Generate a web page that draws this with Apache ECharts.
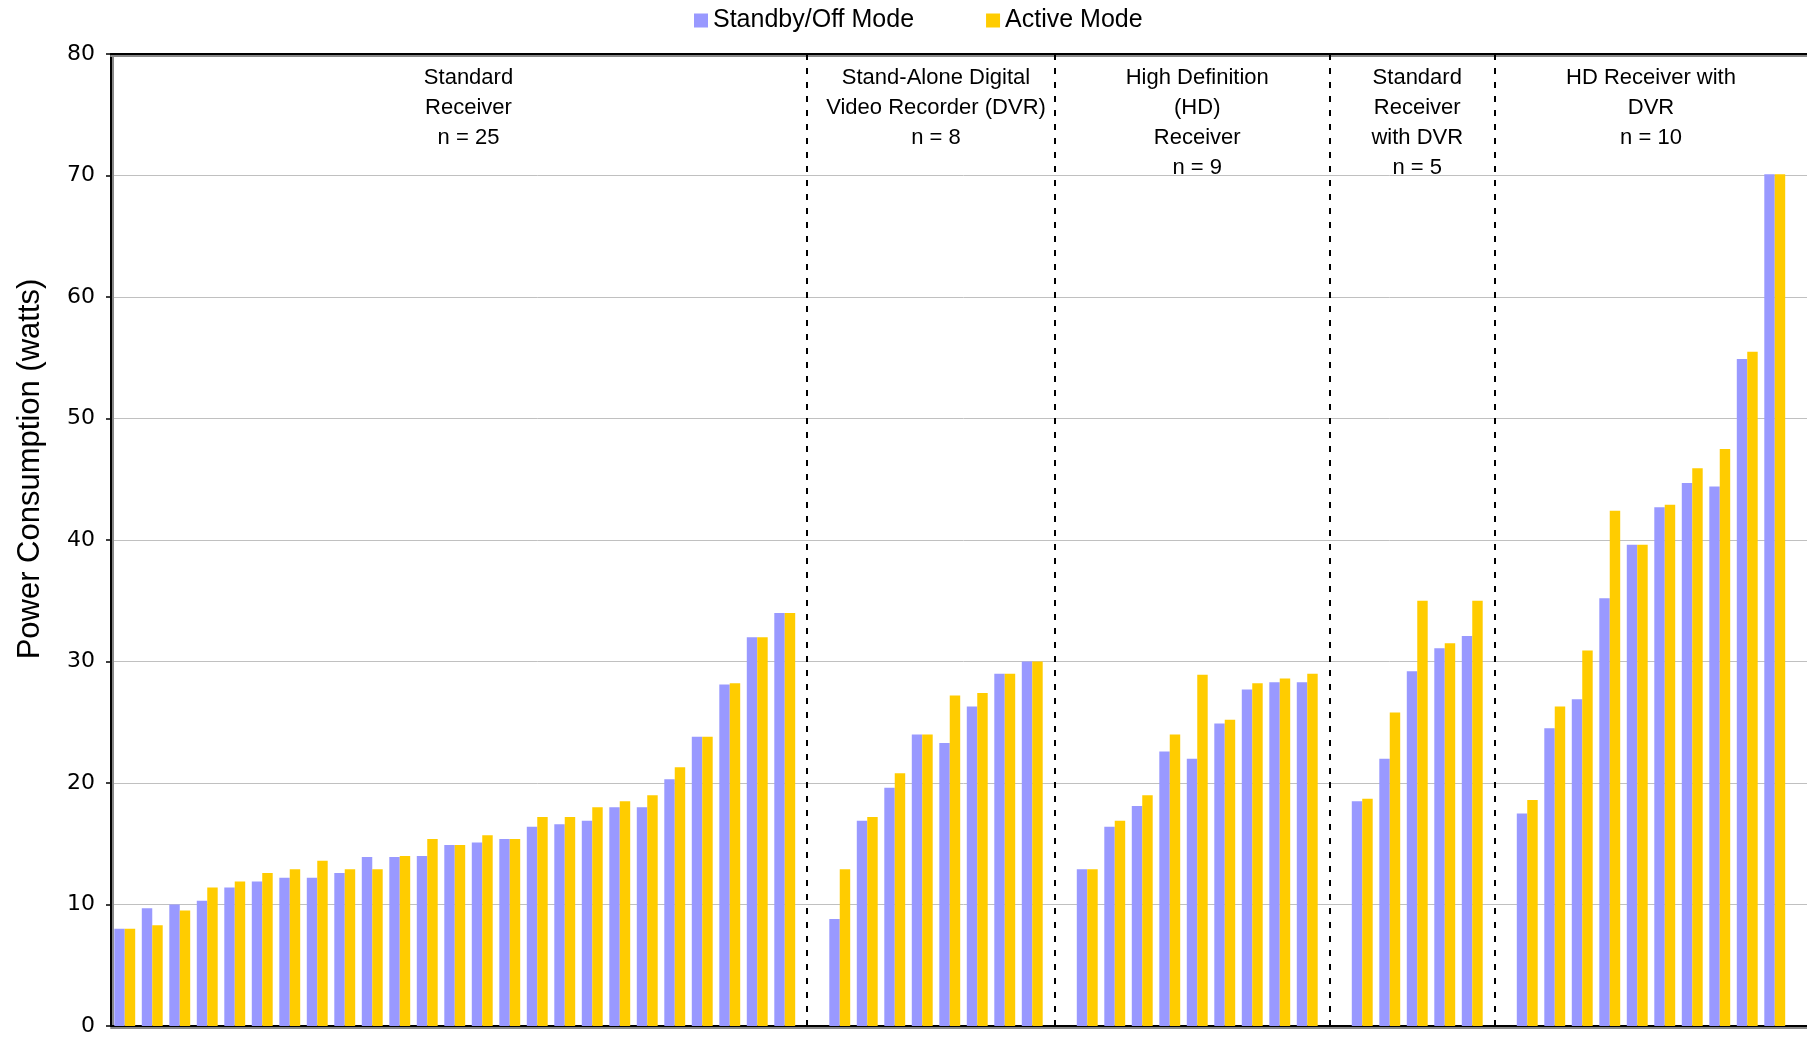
<!DOCTYPE html>
<html><head><meta charset="utf-8">
<script src="https://cdn.jsdelivr.net/npm/echarts@6/dist/echarts.min.js"></script>
<style>html,body{margin:0;padding:0;background:#fff;overflow:hidden;width:1807px;height:1037px}#c{width:1816px;height:1037px}</style>
</head><body><div id="c"></div>
<script>
// ---- data ----
const seriesNames = ['Standby/Off Mode', 'Active Mode'];
const groupLabels = [
  'Standard\nReceiver\nn = 25',
  'Stand-Alone Digital\nVideo Recorder (DVR)\nn = 8',
  'High Definition\n(HD)\nReceiver\nn = 9',
  'Standard\nReceiver\nwith DVR\nn = 5',
  'HD Receiver with\nDVR\nn = 10'
];
const standbyStd   = [8.0, 9.7, 10.0, 10.3, 11.4, 11.9, 12.2, 12.2, 12.6, 13.9, 13.9, 14.0, 14.9, 15.1, 15.4, 16.4, 16.6, 16.9, 18.0, 18.0, 20.3, 23.8, 28.1, 32.0, 34.0];
const activeStd    = [8.0, 8.3, 9.5, 11.4, 11.9, 12.6, 12.9, 13.6, 12.9, 12.9, 14.0, 15.4, 14.9, 15.7, 15.4, 17.2, 17.2, 18.0, 18.5, 19.0, 21.3, 23.8, 28.2, 32.0, 34.0];
const standbyDvr   = [8.8, 16.9, 19.6, 24.0, 23.3, 26.3, 29.0, 30.0];
const activeDvr    = [12.9, 17.2, 20.8, 24.0, 27.2, 27.4, 29.0, 30.0];
const standbyHd    = [12.9, 16.4, 18.1, 22.6, 22.0, 24.9, 27.7, 28.3, 28.3];
const activeHd     = [12.9, 16.9, 19.0, 24.0, 28.9, 25.2, 28.2, 28.6, 29.0];
const standbyStdDvr = [18.5, 22.0, 29.2, 31.1, 32.1];
const activeStdDvr  = [18.7, 25.8, 35.0, 31.5, 35.0];
const standbyHdDvr = [17.5, 24.5, 26.9, 35.2, 39.6, 42.7, 44.7, 44.4, 54.9, 70.1];
const activeHdDvr  = [18.6, 26.3, 30.9, 42.4, 39.6, 42.9, 45.9, 47.5, 55.5, 70.1];
const yTicks = [0, 10, 20, 30, 40, 50, 60, 70, 80];

// ---- build category axis (groups separated by one empty slot) ----
const standbyGroups = [standbyStd, standbyDvr, standbyHd, standbyStdDvr, standbyHdDvr];
const activeGroups  = [activeStd, activeDvr, activeHd, activeStdDvr, activeHdDvr];
const categories = [], sData = [], aData = [], gaps = [];
standbyGroups.forEach((g, gi) => {
  g.forEach((v, i) => {
    categories.push('g' + gi + '_' + i);
    sData.push(v);
    aData.push(activeGroups[gi][i]);
  });
  const gapName = 'gap' + gi;
  categories.push(gapName); sData.push('-'); aData.push('-');
  gaps.push(gapName);
});
const areaBounds = [categories[0]].concat(gaps);

const font = '"Liberation Sans", Arial, sans-serif';
const chart = echarts.init(document.getElementById('c'), null, {renderer: 'canvas'});
chart.setOption({
  animation: false,
  backgroundColor: '#ffffff',
  color: ['#9999ff', '#ffcc00'],
  legend: {
    data: seriesNames,
    left: 689, top: 3,
    itemWidth: 14, itemHeight: 14, itemGap: 72,
    icon: 'rect',
    textStyle: {fontSize: 25, fontFamily: font, color: '#000'}
  },
  grid: {left: 111, right: 0, top: 54, bottom: 9, containLabel: false},
  xAxis: [{
    type: 'category', data: categories,
    axisLine: {show: true, lineStyle: {color: '#000', width: 2, shadowColor: '#888', shadowOffsetY: 2}},
    axisTick: {show: false}, axisLabel: {show: false}, splitLine: {show: false}
  }, {
    type: 'category', data: categories, position: 'top',
    axisLine: {show: true, onZero: false, lineStyle: {color: '#000', width: 2, shadowColor: '#888', shadowOffsetY: 2}},
    axisTick: {show: false}, axisLabel: {show: false}, splitLine: {show: false}
  }],
  yAxis: {
    type: 'value', min: yTicks[0], max: yTicks[yTicks.length - 1], interval: 10,
    axisLine: {show: true, lineStyle: {color: '#000', width: 2, shadowColor: '#888', shadowOffsetX: 2}},
    axisTick: {show: true, inside: false, length: 5, lineStyle: {color: '#000', width: 1.5}},
    axisLabel: {fontSize: 22, fontFamily: '"DejaVu Sans", sans-serif', color: '#000', margin: 16},
    splitLine: {show: true, lineStyle: {color: '#c0c0c0', width: 1}}
  },
  graphic: [{
    type: 'text', x: 30, y: 469, rotation: Math.PI / 2,
    style: {text: 'Power Consumption (watts)', fontSize: 31, fontFamily: font, fill: '#000',
            textAlign: 'center', textVerticalAlign: 'middle'}
  }],
  series: [{
    name: seriesNames[0], type: 'bar', data: sData,
    barGap: '0%', barCategoryGap: '24%',
    itemStyle: {color: '#9999ff'},
    markLine: {
      silent: true, symbol: ['none', 'none'],
      label: {show: false},
      lineStyle: {color: '#000', width: 2, type: [6, 8]},
      data: gaps.slice(0, 4).map(g => ({xAxis: g}))
    },
    markArea: {
      silent: true,
      itemStyle: {color: 'rgba(0,0,0,0)'},
      label: {show: true, position: 'insideTop', distance: 9, color: '#000',
              fontSize: 22, lineHeight: 30, fontFamily: font, align: 'center'},
      data: groupLabels.map((t, i) => [
        {name: t, xAxis: areaBounds[i]},
        {xAxis: areaBounds[i + 1]}
      ])
    }
  }, {
    name: seriesNames[1], type: 'bar', data: aData,
    barGap: '0%', barCategoryGap: '24%',
    itemStyle: {color: '#ffcc00'}
  }]
});
</script></body></html>
